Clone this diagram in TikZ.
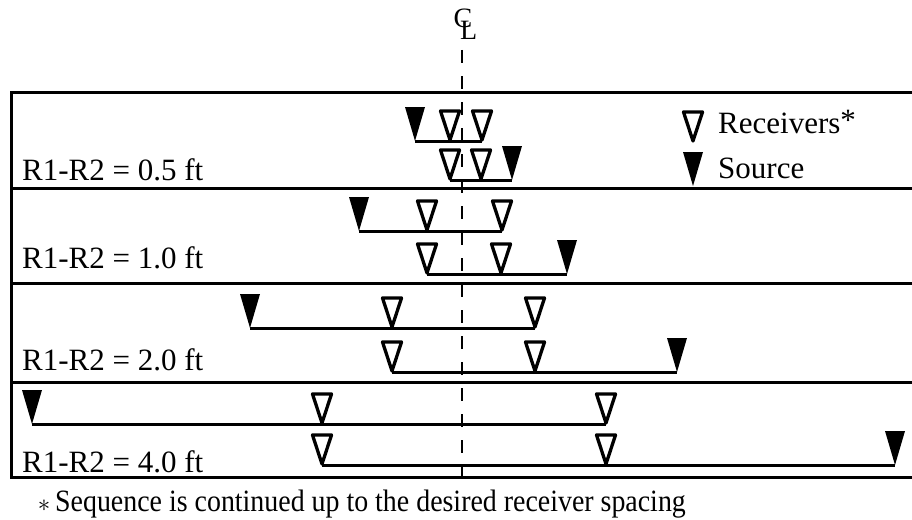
\documentclass[tikz,border=0pt]{standalone}
\usepackage{fontspec}
\setmainfont{Liberation Serif}
\newfontfamily\narrowserif[FakeStretch=0.9]{Liberation Serif}
\begin{document}
\begin{tikzpicture}[x=1pt,y=-1pt,
  frame/.style={line width=3pt},
  base/.style={line width=3pt},
  cline/.style={line width=2.2pt, dash pattern=on 13pt off 13pt, dash phase=0pt},
  lbl/.style={anchor=base west, inner sep=0pt, font=\fontsize{31}{31}\selectfont},
  note/.style={anchor=base west, inner sep=0pt, font=\narrowserif\fontsize{31}{31}\selectfont},
  recv/.pic={\draw[line width=3.3pt, line join=round]
      (-9.5,-30) -- (9.5,-30) -- (0,-1) -- cycle;},
  srce/.pic={\fill (-10,-34) -- (10,-34) -- (0,0) -- cycle;}
]
\useasboundingbox (0,0) rectangle (912,519);

% frame of the four panels
\draw[frame] (912,92) -- (11,92) -- (11,477) -- (912,477);
\draw[frame] (11,188) -- (912,188);
\draw[frame] (11,283) -- (912,283);
\draw[frame] (11,382) -- (912,382);

% centre line and its symbol
\coordinate (cltop) at (462,50);
\coordinate (clbot) at (462,477);
\draw[cline] (cltop) -- (clbot);
\node[anchor=base, inner sep=0pt, font=\fontsize{28}{28}\selectfont] (cl) at (463,34)
  {\makebox[0pt][c]{\raisebox{6pt}{C}}\makebox[0pt][l]{\hspace{-3pt}\raisebox{-6pt}{L}}};

% ---- panel 1: R1-R2 = 0.5 ft
\coordinate (a1s) at (415,141);
\coordinate (a1r1) at (450,141);
\coordinate (a1r2) at (482,141);
\coordinate (a2r1) at (450,180);
\coordinate (a2r2) at (481,180);
\coordinate (a2s) at (512,180);
\draw[base] (a1s) -- (a1r2);
\draw[base] (a2r1) -- (a2s);
\pic at (a1s) {srce}; \pic at (a1r1) {recv}; \pic at (a1r2) {recv};
\pic at (a2r1) {recv}; \pic at (a2r2) {recv}; \pic at (a2s) {srce};
\node[lbl] (lab1) at (22,180) {R1-R2 = 0.5 ft};

% legend
\coordinate (legr) at (693,142);
\coordinate (legs) at (693,186);
\pic at (legr) {recv};
\pic at (legs) {srce};
\node[lbl] (legrt) at (718,133) {Receivers\raisebox{3pt}{*}};
\node[lbl] (legst) at (718,178) {Source};

% ---- panel 2: R1-R2 = 1.0 ft
\coordinate (b1s) at (359,231);
\coordinate (b1r1) at (427,231);
\coordinate (b1r2) at (502,231);
\coordinate (b2r1) at (427,274);
\coordinate (b2r2) at (501,274);
\coordinate (b2s) at (567,274);
\draw[base] (b1s) -- (b1r2);
\draw[base] (b2r1) -- (b2s);
\pic at (b1s) {srce}; \pic at (b1r1) {recv}; \pic at (b1r2) {recv};
\pic at (b2r1) {recv}; \pic at (b2r2) {recv}; \pic at (b2s) {srce};
\node[lbl] (lab2) at (22,268) {R1-R2 = 1.0 ft};

% ---- panel 3: R1-R2 = 2.0 ft
\coordinate (c1s) at (250,328);
\coordinate (c1r1) at (392,328);
\coordinate (c1r2) at (535,328);
\coordinate (c2r1) at (392,372);
\coordinate (c2r2) at (535,372);
\coordinate (c2s) at (677,372);
\draw[base] (c1s) -- (c1r2);
\draw[base] (c2r1) -- (c2s);
\pic at (c1s) {srce}; \pic at (c1r1) {recv}; \pic at (c1r2) {recv};
\pic at (c2r1) {recv}; \pic at (c2r2) {recv}; \pic at (c2s) {srce};
\node[lbl] (lab3) at (22,370) {R1-R2 = 2.0 ft};

% ---- panel 4: R1-R2 = 4.0 ft
\coordinate (d1s) at (32,424);
\coordinate (d1r1) at (322,424);
\coordinate (d1r2) at (606,424);
\coordinate (d2r1) at (322,465);
\coordinate (d2r2) at (606,465);
\coordinate (d2s) at (895,465);
\draw[base] (d1s) -- (d1r2);
\draw[base] (d2r1) -- (d2s);
\pic at (d1s) {srce}; \pic at (d1r1) {recv}; \pic at (d1r2) {recv};
\pic at (d2r1) {recv}; \pic at (d2r2) {recv}; \pic at (d2s) {srce};
\node[lbl] (lab4) at (22,472) {R1-R2 = 4.0 ft};

% footnote
\node[inner sep=0pt, font=\fontsize{26}{26}\selectfont] (fnast) at (44,506) {$\ast$};
\node[note] (fn) at (55,511) {Sequence is continued up to the desired receiver spacing};
\end{tikzpicture}
\end{document}
